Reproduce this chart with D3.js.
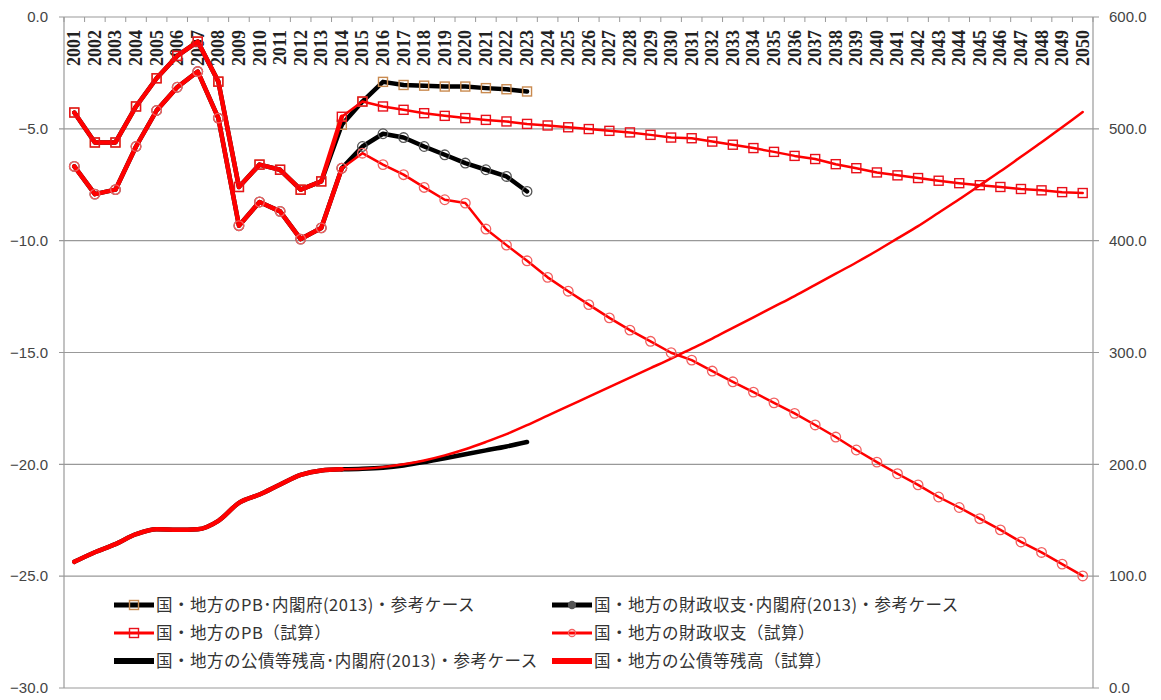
<!DOCTYPE html>
<html>
<head>
<meta charset="utf-8">
<script src="https://cdn.jsdelivr.net/npm/d3@7"></script>
<style>
  body { margin: 0; background: #fff; }
  svg { display: block; }
</style>
</head>
<body>
<svg id="chart" width="1161" height="700"></svg>
<script>
// years on the x axis
const years = d3.range(2001, 2051).map(String);

// 国・地方のPB - 内閣府(2013)・参考ケース  (2001-2023)
const pbCabinet = [-4.27, -5.61, -5.61, -4.0, -2.74, -1.74, -1.1, -2.89, -7.6, -6.6, -6.83, -7.72, -7.35,
  -4.82, -3.78, -2.9, -3.04, -3.07, -3.11, -3.11, -3.18, -3.23, -3.33];

// 国・地方の財政収支 - 内閣府(2013)・参考ケース  (2001-2023)
const balanceCabinet = [-6.68, -7.92, -7.72, -5.79, -4.18, -3.14, -2.44, -4.52, -9.33, -8.27, -8.69, -9.93, -9.43,
  -6.76, -5.79, -5.22, -5.39, -5.79, -6.16, -6.53, -6.83, -7.13, -7.8];

// 国・地方のPB（試算）  (2001-2050)
const pbEstimate = [-4.27, -5.61, -5.61, -4.0, -2.74, -1.74, -1.1, -2.89, -7.6, -6.6, -6.83, -7.72, -7.35,
  -4.46, -3.78, -4.0, -4.15, -4.3, -4.42, -4.52, -4.6, -4.67, -4.78, -4.85, -4.93,
  -5.01, -5.09, -5.16, -5.27, -5.39, -5.42, -5.57, -5.71, -5.86, -6.03,
  -6.21, -6.35, -6.58, -6.76, -6.95, -7.08, -7.2, -7.32, -7.43, -7.52,
  -7.6, -7.69, -7.75, -7.83, -7.87];

// 国・地方の財政収支（試算）  (2001-2050)
const balanceEstimate = [-6.68, -7.92, -7.72, -5.79, -4.18, -3.14, -2.44, -4.52, -9.33, -8.27, -8.69, -9.93, -9.43,
  -6.76, -6.09, -6.6, -7.05, -7.62, -8.17, -8.32, -9.48, -10.2, -10.9, -11.64, -12.26,
  -12.86, -13.45, -14.0, -14.5, -15.01, -15.34, -15.83, -16.31, -16.77, -17.25,
  -17.72, -18.24, -18.78, -19.36, -19.9, -20.42, -20.92, -21.46, -21.93, -22.43,
  -22.93, -23.47, -23.94, -24.46, -24.99];

// 国・地方の公債等残高 - 内閣府(2013)・参考ケース  (2001-2023, right axis)
const debtCabinet = [112.8, 121.4, 128.6, 137.5, 142, 141.5, 142, 149.5, 165.5, 173, 182, 190.5, 194.5,
  195.5, 196, 197, 199, 202, 205.5, 209, 212.5, 216, 220];

// 国・地方の公債等残高（試算）  (2001-2050, right axis)
const debtEstimate = [112.8, 121.4, 128.6, 137.5, 142, 141.5, 142, 149.5, 165.5, 173, 182, 190.5, 194.5,
  195.5, 196, 197.5, 200, 203.5, 208, 213.5, 220, 227, 235, 243.5, 252,
  260.5, 269, 277.5, 286, 294.5, 303.5, 312.5, 322, 331.5, 341,
  350.5, 360.5, 370.5, 380.5, 391, 402, 413, 425, 437, 449.5,
  462, 475, 488, 501.5, 515];

const leftTicks = [0, -5, -10, -15, -20, -25, -30];
const rightTicks = [600, 500, 400, 300, 200, 100, 0];
const lastActualYear = 2014;

const svg = d3.select("#chart");
const margin = { left: 64, right: 1093, top: 17, bottom: 688 };

const x = d3.scaleBand().domain(years).range([margin.left, margin.right]).padding(0);
const yL = d3.scaleLinear().domain([-30, 0]).range([margin.bottom, margin.top]);
const yR = d3.scaleLinear().domain([0, 600]).range([margin.bottom, margin.top]);
const cx = d => x(d.year) + x.bandwidth() / 2;

// grid lines
svg.append("g")
  .selectAll("line")
  .data(leftTicks)
  .enter().append("line")
  .attr("x1", margin.left - 5)
  .attr("x2", margin.right + 6)
  .attr("y1", d => yL(d))
  .attr("y2", d => yL(d))
  .attr("stroke", "#999")
  .attr("stroke-width", 1.2);

// vertical axis lines
[margin.left, margin.right].forEach(xx => {
  svg.append("line")
    .attr("x1", xx).attr("x2", xx)
    .attr("y1", margin.top).attr("y2", margin.bottom)
    .attr("stroke", "#999").attr("stroke-width", 1.2);
});

// top category ticks
svg.append("g")
  .selectAll("line")
  .data(years.concat(["end"]))
  .enter().append("line")
  .attr("x1", (d, i) => margin.left + i * x.bandwidth())
  .attr("x2", (d, i) => margin.left + i * x.bandwidth())
  .attr("y1", margin.top)
  .attr("y2", margin.top + 5)
  .attr("stroke", "#999")
  .attr("stroke-width", 1);

// left axis labels
svg.append("g")
  .selectAll("text")
  .data(leftTicks)
  .enter().append("text")
  .attr("x", 48)
  .attr("y", d => yL(d))
  .attr("dy", "0.35em")
  .attr("text-anchor", "end")
  .attr("font-family", "'Liberation Sans', Arial, sans-serif")
  .attr("font-size", 15)
  .attr("fill", "#444")
  .text(d => d3.format(".1f")(d));

// right axis labels
svg.append("g")
  .selectAll("text")
  .data(rightTicks)
  .enter().append("text")
  .attr("x", 1109)
  .attr("y", d => yR(d))
  .attr("dy", "0.35em")
  .attr("text-anchor", "start")
  .attr("font-family", "'Liberation Sans', Arial, sans-serif")
  .attr("font-size", 15)
  .attr("fill", "#444")
  .text(d => d3.format(".1f")(d));

// year labels, rotated inside the top of the plot
svg.append("g")
  .selectAll("text")
  .data(years)
  .enter().append("text")
  .attr("transform", d => `translate(${x(d) + x.bandwidth() / 2 + 6},30) rotate(-90)`)
  .attr("text-anchor", "end")
  .attr("font-family", "'Liberation Serif', serif")
  .attr("font-weight", "bold")
  .attr("font-size", 18)
  .attr("fill", "#222")
  .text(d => d);

function toPoints(values) {
  return values.map((v, i) => ({ year: years[i], value: v }));
}

function drawLine(values, scale, color, widthActual, widthFuture, smooth) {
  const pts = toPoints(values);
  const line = d3.line().x(cx).y(d => scale(d.value));
  if (smooth) line.curve(d3.curveMonotoneX);
  const past = pts.filter(d => +d.year <= lastActualYear);
  const future = pts.filter(d => +d.year >= lastActualYear);
  svg.append("path")
    .datum(past)
    .attr("d", line)
    .attr("fill", "none")
    .attr("stroke", color)
    .attr("stroke-width", widthActual)
    .attr("stroke-linejoin", "round")
    .attr("stroke-linecap", "round");
  if (future.length > 1) {
    svg.append("path")
      .datum(future)
      .attr("d", line)
      .attr("fill", "none")
      .attr("stroke", color)
      .attr("stroke-width", widthFuture)
      .attr("stroke-linejoin", "round")
      .attr("stroke-linecap", "round");
  }
}

function drawMarkers(values, scale, shape, stroke) {
  const pts = toPoints(values);
  const g = svg.append("g");
  if (shape === "square") {
    g.selectAll("rect")
      .data(pts)
      .enter().append("rect")
      .attr("x", d => cx(d) - 4.5)
      .attr("y", d => scale(d.value) - 4.5)
      .attr("width", 9)
      .attr("height", 9)
      .attr("fill", "none")
      .attr("stroke", stroke)
      .attr("stroke-width", 1.4);
  } else {
    g.selectAll("circle")
      .data(pts)
      .enter().append("circle")
      .attr("cx", cx)
      .attr("cy", d => scale(d.value))
      .attr("r", 4.8)
      .attr("fill", "none")
      .attr("stroke", stroke)
      .attr("stroke-width", 1.3);
  }
}

// black series (内閣府)
drawLine(debtCabinet, yR, "#000", 4.5, 4.5, true);
drawLine(pbCabinet, yL, "#000", 4.5, 4.5);
drawMarkers(pbCabinet, yL, "square", "#c98a4f");
drawLine(balanceCabinet, yL, "#000", 4.5, 4.5);
drawMarkers(balanceCabinet, yL, "circle", "#555");

// red series (試算)
drawLine(debtEstimate, yR, "#ff0000", 4.5, 2.5, true);
drawLine(pbEstimate, yL, "#ff0000", 4.5, 2.5);
drawMarkers(pbEstimate, yL, "square", "#e8101a");
drawLine(balanceEstimate, yL, "#ff0000", 4.5, 2.5);
drawMarkers(balanceEstimate, yL, "circle", "#f26060");

// legend
const legendItems = [
  { label: "国・地方のPB･内閣府(2013)・参考ケース", color: "#000", marker: "square", markerColor: "#c98a4f", width: 5, col: 0, row: 0 },
  { label: "国・地方の財政収支･内閣府(2013)・参考ケース", color: "#000", marker: "circle", markerColor: "#555", width: 5, col: 1, row: 0 },
  { label: "国・地方のPB（試算）", color: "#ff0000", marker: "square", markerColor: "#e8101a", width: 3, col: 0, row: 1 },
  { label: "国・地方の財政収支（試算）", color: "#ff0000", marker: "circle", markerColor: "#f26060", width: 3, col: 1, row: 1 },
  { label: "国・地方の公債等残高･内閣府(2013)・参考ケース", color: "#000", marker: null, width: 6, col: 0, row: 2 },
  { label: "国・地方の公債等残高（試算）", color: "#ff0000", marker: null, width: 6, col: 1, row: 2 }
];
const legendColX = [114, 552];
const legendRowY = [605, 633, 661];

const legend = svg.append("g");
legendItems.forEach(item => {
  const x0 = legendColX[item.col];
  const y0 = legendRowY[item.row];
  const g = legend.append("g").attr("transform", `translate(${x0},${y0})`);
  g.append("line")
    .attr("x1", 0).attr("x2", 40)
    .attr("y1", 0).attr("y2", 0)
    .attr("stroke", item.color)
    .attr("stroke-width", item.width);
  if (item.marker === "square") {
    g.append("rect")
      .attr("x", 15.5).attr("y", -4.5)
      .attr("width", 9).attr("height", 9)
      .attr("fill", "none")
      .attr("stroke", item.markerColor)
      .attr("stroke-width", 1.4);
  } else if (item.marker === "circle") {
    g.append("circle")
      .attr("cx", 20).attr("cy", 0).attr("r", 3.5)
      .attr("fill", item.color === "#000" ? "#555" : "none")
      .attr("stroke", item.markerColor)
      .attr("stroke-width", 1.3);
  }
  g.append("text")
    .attr("x", 42)
    .attr("y", 0)
    .attr("dy", "0.36em")
    .attr("font-family", "'Noto Sans CJK JP', sans-serif")
    .attr("font-size", 16.5)
    .attr("letter-spacing", 0.5)
    .attr("fill", "#333")
    .text(item.label);
});
</script>
</body>
</html>
